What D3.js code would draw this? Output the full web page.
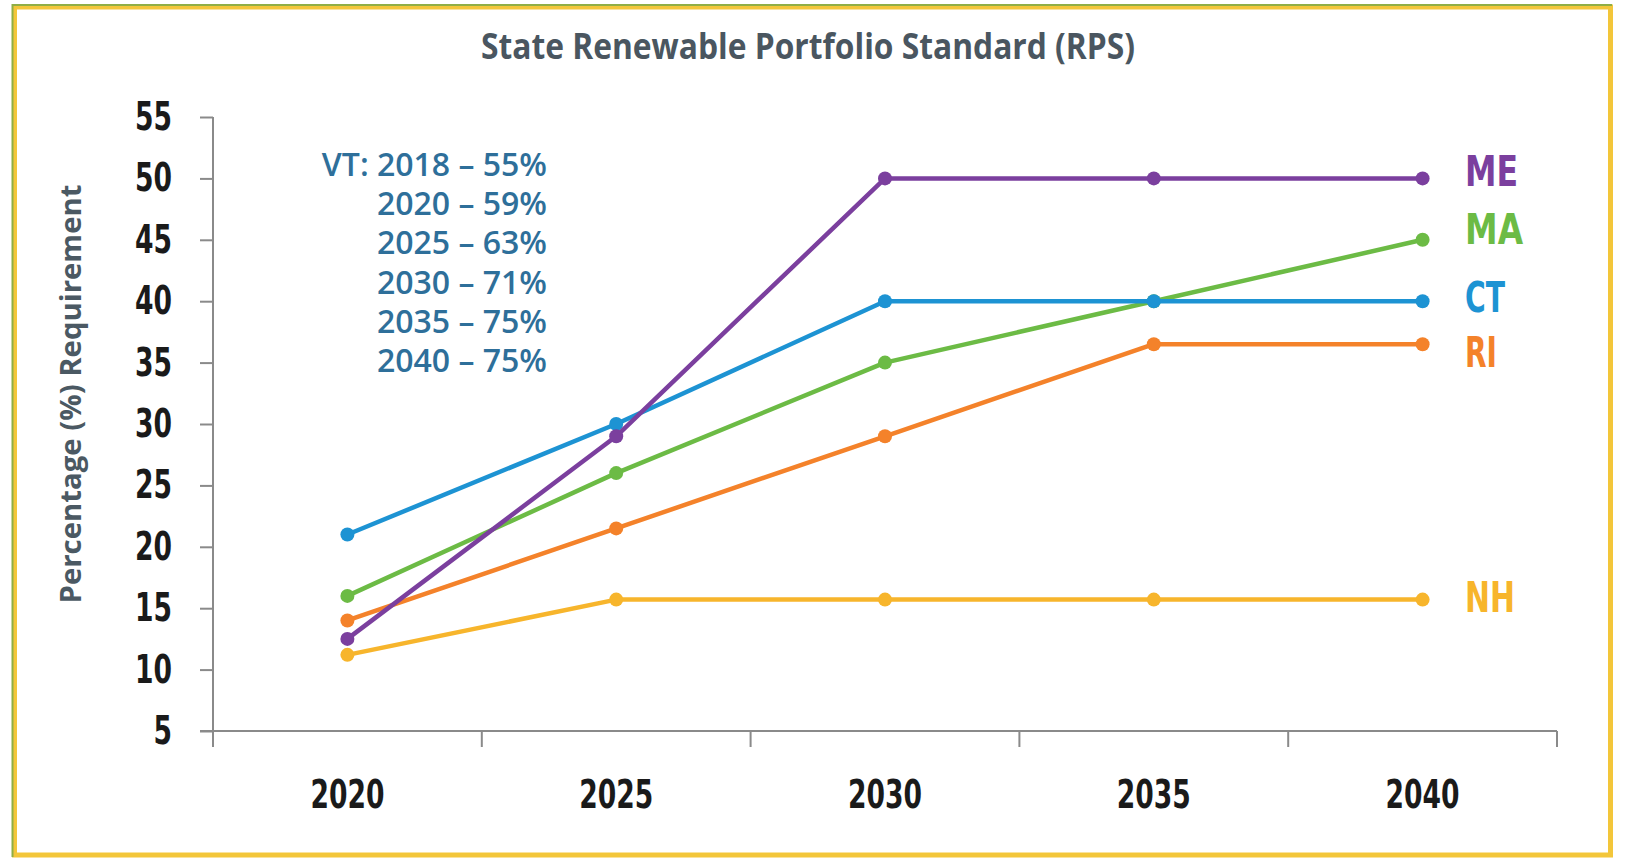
<!DOCTYPE html>
<html>
<head>
<meta charset="utf-8">
<script src="https://cdn.jsdelivr.net/npm/d3@7"></script>
<style>
  body { margin: 0; background: #fff; }
  svg { display: block; }
</style>
</head>
<body>
<div id="rpsChart"></div>
<script>
// Data
const years = ['2020', '2025', '2030', '2035', '2040'];
const states = ['ME', 'MA', 'CT', 'RI', 'NH'];
const meValues = [12.5, 29, 50, 50, 50];
const maValues = [16, 26, 35, 40, 45];
const ctValues = [21, 30, 40, 40, 40];
const riValues = [14, 21.5, 29, 36.5, 36.5];
const nhValues = [11.2, 15.7, 15.7, 15.7, 15.7];
const yTicks = [5, 10, 15, 20, 25, 30, 35, 40, 45, 50, 55];
const vtNotes = ['VT: 2018 \u2013 55%', '2020 \u2013 59%', '2025 \u2013 63%', '2030 \u2013 71%', '2035 \u2013 75%', '2040 \u2013 75%'];

const chart = '#rpsChart';
const W = 1626, H = 859;
const narrow = "'Liberation Sans Narrow', 'DejaVu Sans Condensed', 'DejaVu Sans', sans-serif";
const sans = "'Open Sans', 'Noto Sans', sans-serif";
const digitWidth = 18.5; // condensed digits in the reference

// series drawing order (back to front) and styling
const series = [
  { name: 'NH', values: nhValues, color: '#f7b52c', nudge: -3, labelWidth: 50 },
  { name: 'RI', values: riValues, color: '#f4822a', nudge: 8, labelWidth: 32 },
  { name: 'MA', values: maValues, color: '#6cbb45', nudge: -11, labelWidth: 58 },
  { name: 'CT', values: ctValues, color: '#1d93d3', nudge: -4, labelWidth: 40 },
  { name: 'ME', values: meValues, color: '#7b3f9e', nudge: -7, labelWidth: 53 }
];

const svg = d3.select(chart).append('svg').attr('width', W).attr('height', H);

// Frame round the picture
svg.append('rect').attr('x', 0).attr('y', 0).attr('width', W).attr('height', H).attr('fill', '#fff');
svg.append('rect')
  .attr('x', 14.5).attr('y', 7)
  .attr('width', 1596).attr('height', 848)
  .attr('fill', 'none')
  .attr('stroke', '#f3c63a')
  .attr('stroke-width', 5);
svg.append('path')
  .attr('d', 'M12.5,857 L12.5,5 L1612,5')
  .attr('fill', 'none')
  .attr('stroke', '#8fae45')
  .attr('stroke-width', 2);

// Scales
const x = d3.scaleBand().domain(years).range([213, 1557]);
const y = d3.scaleLinear().domain([5, 55]).range([731, 117]);
const cx = (yr) => x(yr) + x.bandwidth() / 2;

// Title
svg.append('text')
  .attr('x', 808).attr('y', 59)
  .attr('text-anchor', 'middle')
  .attr('textLength', 654)
  .attr('lengthAdjust', 'spacingAndGlyphs')
  .style('font-family', sans)
  .style('font-weight', 700)
  .style('font-size', '35px')
  .style('fill', '#4a5660')
  .text('State Renewable Portfolio Standard (RPS)');

// Y axis
const yAxis = svg.append('g')
  .attr('transform', 'translate(213,0)')
  .call(d3.axisLeft(y).tickValues(yTicks).tickSize(13).tickSizeOuter(0).tickPadding(28));
yAxis.select('.domain').remove();
yAxis.selectAll('.tick line').attr('stroke', '#8a8a8a').attr('stroke-width', 2);
yAxis.selectAll('.tick text')
  .attr('textLength', (d) => String(d).length * digitWidth)
  .attr('lengthAdjust', 'spacingAndGlyphs')
  .style('font-family', narrow)
  .style('font-weight', 700)
  .style('font-size', '39px')
  .style('fill', '#1a1a1a');
svg.append('line')
  .attr('x1', 213).attr('x2', 213)
  .attr('y1', y(55)).attr('y2', 747)
  .attr('stroke', '#8a8a8a').attr('stroke-width', 2);

// X axis: labels in band centres, ticks on band edges
const xAxis = svg.append('g')
  .attr('transform', 'translate(0,' + y(5) + ')')
  .call(d3.axisBottom(x).tickSize(0).tickPadding(49));
xAxis.select('.domain').attr('stroke', '#8a8a8a').attr('stroke-width', 2)
  .attr('d', 'M200,0H' + x.range()[1]);
xAxis.selectAll('.tick text')
  .attr('textLength', (d) => d.length * digitWidth)
  .attr('lengthAdjust', 'spacingAndGlyphs')
  .style('font-family', narrow)
  .style('font-weight', 700)
  .style('font-size', '39px')
  .style('fill', '#1a1a1a');
const edges = years.map((yr) => x(yr)).concat([x.range()[1]]);
xAxis.selectAll('.edge')
  .data(edges)
  .enter()
  .append('line')
  .attr('x1', (d) => d).attr('x2', (d) => d)
  .attr('y1', 0).attr('y2', 16)
  .attr('stroke', '#8a8a8a').attr('stroke-width', 2);

// Y axis label
svg.append('text')
  .attr('transform', 'translate(81,394) rotate(-90)')
  .attr('text-anchor', 'middle')
  .attr('textLength', 419)
  .attr('lengthAdjust', 'spacingAndGlyphs')
  .style('font-family', sans)
  .style('font-weight', 700)
  .style('font-size', '28px')
  .style('fill', '#4b5963')
  .text('Percentage (%) Requirement');

// VT note
svg.append('g')
  .selectAll('text')
  .data(vtNotes)
  .enter()
  .append('text')
  .attr('x', 547)
  .attr('y', (d, i) => 176 + i * 39.2)
  .attr('text-anchor', 'end')
  .style('font-family', sans)
  .style('font-weight', 600)
  .style('font-size', '32px')
  .style('fill', '#2e6f9a')
  .text((d) => d);

// Lines and points
const line = d3.line()
  .x((d, i) => cx(years[i]))
  .y((d) => y(d));

const groups = svg.selectAll('.series')
  .data(series)
  .enter()
  .append('g')
  .attr('class', 'series');

groups.append('path')
  .attr('d', (s) => line(s.values))
  .attr('fill', 'none')
  .attr('stroke', (s) => s.color)
  .attr('stroke-width', 4.5)
  .attr('stroke-linejoin', 'round');

groups.selectAll('circle')
  .data((s) => s.values.map((v, i) => ({ v: v, yr: years[i], color: s.color })))
  .enter()
  .append('circle')
  .attr('cx', (d) => cx(d.yr))
  .attr('cy', (d) => y(d.v))
  .attr('r', 7)
  .attr('fill', (d) => d.color);

// State labels at the right end
groups.append('text')
  .attr('x', 1465)
  .attr('y', (s) => y(s.values[s.values.length - 1]) + s.nudge + 15)
  .attr('textLength', (s) => s.labelWidth)
  .attr('lengthAdjust', 'spacingAndGlyphs')
  .style('font-family', narrow)
  .style('font-weight', 700)
  .style('font-size', '42px')
  .style('fill', (s) => s.color)
  .text((s) => s.name);
</script>
</body>
</html>
